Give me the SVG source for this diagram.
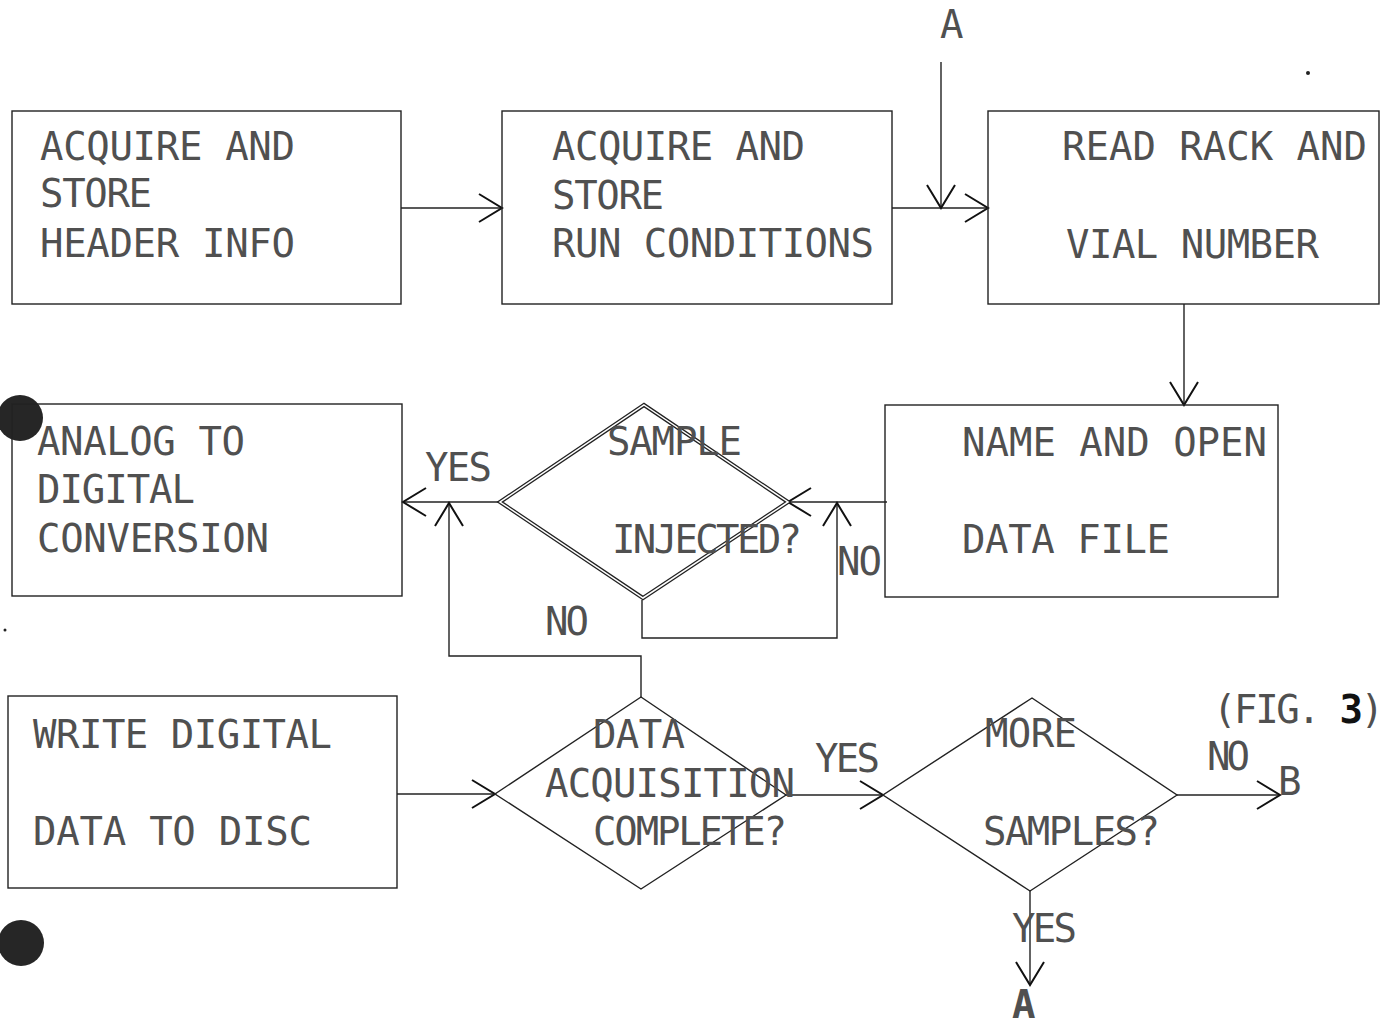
<svg xmlns="http://www.w3.org/2000/svg" width="1387" height="1025" viewBox="0 0 1387 1025">
<style>
  .box { fill: none; stroke: #222; stroke-width: 1.4; }
  .dia { fill: none; stroke: #222; stroke-width: 1.4; }
  .dbl-outer { fill: none; stroke: #222; stroke-width: 4; stroke-linejoin: miter; }
  .dbl-inner { fill: none; stroke: #fff; stroke-width: 1.5; stroke-linejoin: miter; }
  .t { font-family: "DejaVu Sans Mono", "Liberation Mono", monospace; font-size: 39px; fill: #505050; }
  .conn { fill: none; stroke: #222; stroke-width: 1.4; }
  .hole { fill: #262626; }
</style>
<defs>
  <marker id="arr" markerUnits="userSpaceOnUse" markerWidth="30" markerHeight="34" viewBox="-26 -17 30 34" refX="0" refY="0" orient="auto">
    <path d="M-23,-14 L0,0 L-23,14" fill="none" stroke="#111" stroke-width="2"/>
  </marker>
</defs>
<rect width="1387" height="1025" fill="#fff"/>

<g id="punch-holes">
  <circle class="hole" cx="20" cy="418" r="23"/>
  <circle class="hole" cx="21" cy="943" r="23"/>
  <circle cx="1308" cy="73" r="2" fill="#222"/>
  <circle cx="5" cy="630" r="1.5" fill="#222"/>
</g>

<g id="connectors">
  <path class="conn" d="M401,208 H502" marker-end="url(#arr)"/>
  <path class="conn" d="M892,208 H988" marker-end="url(#arr)"/>
  <path class="conn" d="M941,62 V208" marker-end="url(#arr)"/>
  <path class="conn" d="M1184,304 V405" marker-end="url(#arr)"/>
  <path class="conn" d="M887,502 H788" marker-end="url(#arr)"/>
  <path class="conn" d="M500,502 H403" marker-end="url(#arr)"/>
  <path class="conn" d="M642,600 V638 H837 V503" marker-end="url(#arr)"/>
  <path class="conn" d="M641,697 V656 H449 V503" marker-end="url(#arr)"/>
  <path class="conn" d="M397,794 H495" marker-end="url(#arr)"/>
  <path class="conn" d="M786,795 H883" marker-end="url(#arr)"/>
  <path class="conn" d="M1177,795 H1280" marker-end="url(#arr)"/>
  <path class="conn" d="M1030,891 V985" marker-end="url(#arr)"/>
  <text class="t" x="425" y="481" textLength="67">YES</text>
  <text class="t" x="837" y="575" textLength="45">NO</text>
  <text class="t" x="545" y="635" textLength="44">NO</text>
  <text class="t" x="815" y="772" textLength="65">YES</text>
  <text class="t" x="1207" y="770" textLength="43">NO</text>
  <text class="t" x="1012" y="942" textLength="65">YES</text>
  <text class="t" x="1278" y="795">B</text>
  <text class="t" x="940" y="38">A</text>
  <text class="t" x="1012" y="1018" font-weight="bold" fill="#111">A</text>
  <text class="t" x="1213" y="723" textLength="171">(FIG. <tspan font-weight="bold" fill="#111">3</tspan>)</text>
</g>

<g id="node-header">
  <rect class="box" x="12" y="111" width="389" height="193"/>
  <text class="t" x="40" y="160" textLength="255">ACQUIRE AND</text>
  <text class="t" x="40" y="207" textLength="112">STORE</text>
  <text class="t" x="40" y="257" textLength="255">HEADER INFO</text>
</g>

<g id="node-run">
  <rect class="box" x="502" y="111" width="390" height="193"/>
  <text class="t" x="552" y="160" textLength="253">ACQUIRE AND</text>
  <text class="t" x="552" y="209" textLength="112">STORE</text>
  <text class="t" x="552" y="257" textLength="322">RUN CONDITIONS</text>
</g>

<g id="node-rack">
  <rect class="box" x="988" y="111" width="391" height="193"/>
  <text class="t" x="1062" y="160" textLength="305">READ RACK AND</text>
  <text class="t" x="1066" y="258" textLength="253">VIAL NUMBER</text>
</g>

<g id="node-open">
  <rect class="box" x="885" y="405" width="393" height="192"/>
  <text class="t" x="962" y="456" textLength="305">NAME AND OPEN</text>
  <text class="t" x="962" y="553" textLength="208">DATA FILE</text>
</g>

<g id="node-adc">
  <rect class="box" x="12" y="404" width="390" height="192"/>
  <text class="t" x="37" y="455" textLength="208">ANALOG TO</text>
  <text class="t" x="37" y="503" textLength="158">DIGITAL</text>
  <text class="t" x="37" y="552" textLength="232">CONVERSION</text>
</g>

<g id="node-write">
  <rect class="box" x="8" y="696" width="389" height="192"/>
  <text class="t" x="33" y="748" textLength="299">WRITE DIGITAL</text>
  <text class="t" x="33" y="845" textLength="279">DATA TO DISC</text>
</g>

<g id="node-injected">
  <polygon class="dbl-outer" points="644,405 788,502 643,598 500,502"/>
  <polygon class="dbl-inner" points="644,405 788,502 643,598 500,502"/>
  <text class="t" x="607" y="455" textLength="135">SAMPLE</text>
  <text class="t" x="612" y="553" textLength="190">INJECTED?</text>
</g>

<g id="node-complete">
  <polygon class="dia" points="641,697 786,795 641,889 495,794"/>
  <text class="t" x="593" y="748" textLength="92">DATA</text>
  <text class="t" x="545" y="797" textLength="250">ACQUISITION</text>
  <text class="t" x="593" y="845" textLength="194">COMPLETE?</text>
</g>

<g id="node-more">
  <polygon class="dia" points="1032,698 1177,795 1030,891 883,795"/>
  <text class="t" x="985" y="747" textLength="92">MORE</text>
  <text class="t" x="983" y="845" textLength="177">SAMPLES?</text>
</g>
</svg>
